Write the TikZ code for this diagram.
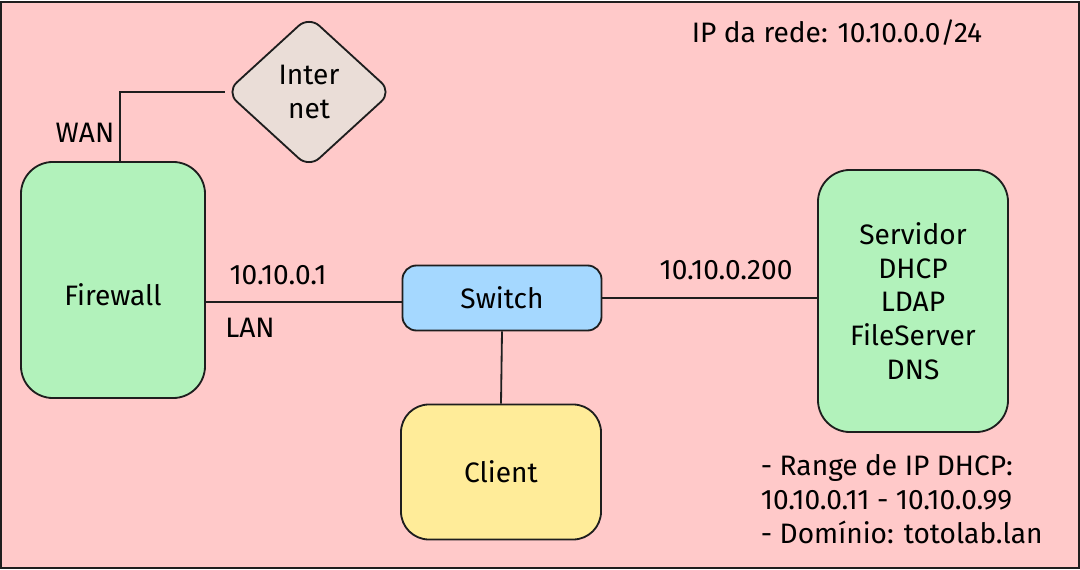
\documentclass[tikz,border=0pt]{standalone}
\usepackage{fontspec}
\setmainfont{Fira Sans}
\usetikzlibrary{shapes.geometric}
\definecolor{bgpink}{HTML}{FFC9C9}
\definecolor{fwgreen}{HTML}{B2F2BB}
\definecolor{swblue}{HTML}{A5D8FF}
\definecolor{clyellow}{HTML}{FFEC99}
\definecolor{netgray}{HTML}{EADDD7}
\definecolor{ink}{HTML}{1E1E1E}

\begin{document}
\begin{tikzpicture}[x=0.025cm,y=-0.025cm,line width=1.3pt,
  font=\fontsize{20}{24}\selectfont,
  box/.style={draw=ink,rounded corners=0.8cm,inner sep=0pt,align=center},
  link/.style={draw=ink}]
% Frame
\useasboundingbox (0,0) rectangle (1080,570);
\draw[ink,fill=bgpink] (1,2) rectangle (1079,568);

% Devices
\node[box,fill=fwgreen,text height=1.3cm,minimum width=4.6cm,minimum height=5.9cm] (fw) at (113,280) {Firewall};
\node[box,fill=swblue,rounded corners=0.35cm,minimum width=4.975cm,minimum height=1.625cm] (sw) at (502,298) {Switch};
\node[box,fill=clyellow,rounded corners=0.7cm,minimum width=5cm,minimum height=3.375cm] (cl) at (501,472) {Client};
\node[box,fill=fwgreen,minimum width=4.75cm,minimum height=6.55cm] (srv) at (913,301)
  {Servidor\\DHCP\\LDAP\\FileServer\\DNS};
\node[draw=ink,fill=netgray,diamond,rounded corners=0.35cm,inner sep=0pt,align=center,
  minimum width=4.15cm,minimum height=3.8cm] (inet) at (309,92) {Inter\\net};

% Links
\draw[link] ([xshift=0.175cm]fw.north) |- (inet.west);
\draw[link] ([yshift=-0.1cm]sw.west -| fw.east) -- ([yshift=-0.1cm]sw.west);
\draw[link] (sw.east) -- (sw.east -| srv.west);
\draw[link] (sw.south) -- (cl.north);

% Labels
\node (wan) at (85,133) {WAN};
\node (fwip) at (278,275) {10.10.0.1};
\node (lan) at (250,328) {LAN};
\node (srvip) at (726,270) {10.10.0.200};
\node (rede) at (837,33) {IP da rede: 10.10.0.0/24};
\node[anchor=west,align=left,inner sep=0pt] (notes) at (760,499)
  {- Range de IP DHCP:\\10.10.0.11 - 10.10.0.99\\- Domínio: totolab.lan};
\end{tikzpicture}
\end{document}
